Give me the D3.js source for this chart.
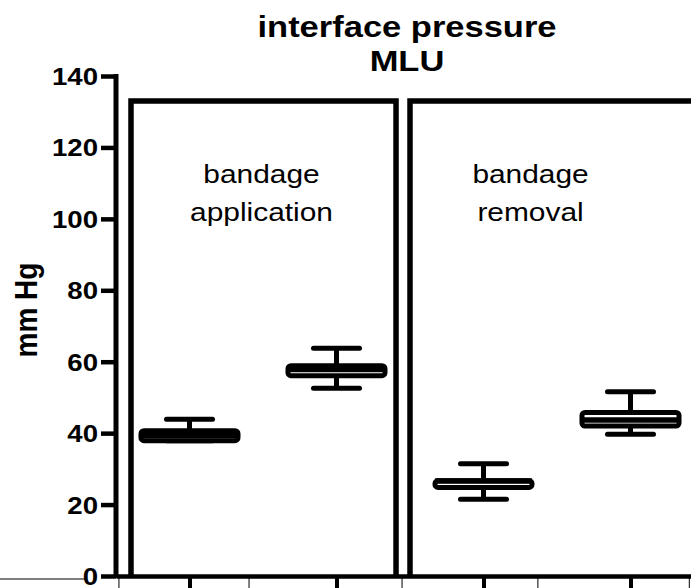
<!DOCTYPE html>
<html>
<head>
<meta charset="utf-8">
<script src="https://cdn.jsdelivr.net/npm/d3@7/dist/d3.min.js"></script>
<style>
  html, body { margin: 0; padding: 0; background: #fff; }
  svg { display: block; }
  text { font-family: "Liberation Sans", Arial, sans-serif; fill: #000; }
</style>
</head>
<body>
<svg id="chart" width="691" height="588"></svg>
<script>
// ---- data ----
const categories = ["application 1", "application 2", "removal 1", "removal 2"];
const mins    = [37.9, 52.6, 21.5, 39.7];
const q1s     = [37.9, 56.1, 24.8, 42.0];
const medians = [39.3, 57.8, 26.6, 43.7];
const q3s     = [40.7, 58.9, 26.7, 45.8];
const maxs    = [43.9, 63.8, 31.4, 51.6];

const yTicks = [0, 20, 40, 60, 80, 100, 120, 140];
const titleLines = ["interface pressure", "MLU"];
const yLabel = "mm Hg";
const panelLabels = [["bandage", "application"], ["bandage", "removal"]];
const panelSpans = [[-0.398, 1.405], [1.5, 3.7]];   // in category units
const panelTop = 133;                               // mm Hg
const panelTextPos = [0.49, 2.32];                  // category units
const panelTextValue = 110;                          // mm Hg (first line baseline)
const minorLinePos = [-0.48, 0.405, 1.446, 2.37, 3.40]; // category units

// ---- layout ----
const svg = d3.select("#chart");
const SX = 1.15; // horizontal text stretch of the original

const y = d3.scaleLinear().domain([0, 140]).range([576, 76]);
const x = d3.scalePoint().domain(categories).range([116, 704]).padding(0.5);
const xi = d3.scaleLinear().domain([0, categories.length - 1])
  .range([x(categories[0]), x(categories[categories.length - 1])]);

const boxes = categories.map((c, i) => ({
  c, min: mins[i], q1: q1s[i], med: medians[i], q3: q3s[i], max: maxs[i]
}));

// thin line at far left (frame remnant)
svg.append("line").attr("x1", 0).attr("x2", 86)
  .attr("y1", y(0) + 3).attr("y2", y(0) + 3)
  .attr("stroke", "#000").attr("stroke-width", 1);

// minor thin lines below the axis
svg.append("g").selectAll("line").data(minorLinePos).join("line")
  .attr("x1", d => xi(d)).attr("x2", d => xi(d))
  .attr("y1", y(0) + 2).attr("y2", 600)
  .attr("stroke", "#000").attr("stroke-width", 1);

// panels
const pg = svg.append("g");
panelSpans.forEach((s, i) => {
  const x0 = xi(s[0]), x1 = xi(s[1]), yt = y(panelTop), yb = y(0);
  pg.append("path")
    .attr("d", `M${x0},${yb} L${x0},${yt} L${x1},${yt} L${x1},${yb}`)
    .attr("fill", "none").attr("stroke", "#000").attr("stroke-width", 5.5)
    .attr("stroke-linejoin", "miter");
  const tx = xi(panelTextPos[i]);
  panelLabels[i].forEach((line, k) => {
    pg.append("text")
      .attr("transform", `translate(${tx},${y(panelTextValue) + k * 38}) scale(${SX},1)`)
      .attr("text-anchor", "middle")
      .attr("font-size", 26)
      .text(line);
  });
});

// box plots
const bw = x.step() * 0.66;
const cw = x.step() * 0.313;
const bg = svg.append("g").selectAll("g").data(boxes).join("g")
  .attr("transform", d => `translate(${x(d.c)},0)`);

// whiskers
bg.append("line").attr("x1", 0).attr("x2", 0)
  .attr("y1", d => y(d.max)).attr("y2", d => y(d.min))
  .attr("stroke", "#000").attr("stroke-width", 5);
bg.selectAll(".cap").data(d => [d.min, d.max]).join("line")
  .attr("class", "cap")
  .attr("x1", -cw / 2).attr("x2", cw / 2)
  .attr("y1", v => y(v)).attr("y2", v => y(v))
  .attr("stroke", "#000").attr("stroke-width", 5).attr("stroke-linecap", "round");
// box
bg.append("rect")
  .attr("x", -bw / 2).attr("width", bw)
  .attr("y", d => y(d.q3)).attr("height", d => y(d.q1) - y(d.q3))
  .attr("rx", 3)
  .attr("fill", "#fff").attr("stroke", "#000").attr("stroke-width", 5);
// median
bg.append("line")
  .attr("x1", -bw / 2).attr("x2", bw / 2)
  .attr("y1", d => y(d.med)).attr("y2", d => y(d.med))
  .attr("stroke", "#000").attr("stroke-width", 5.5);

// x axis
const xAxis = svg.append("g").attr("transform", `translate(0,${y(0)})`)
  .call(d3.axisBottom(x).tickSize(14).tickSizeOuter(0).tickFormat(""));
xAxis.select(".domain").attr("stroke-width", 4.5);
xAxis.selectAll(".tick line").attr("stroke-width", 4);

// y axis
const yAxis = svg.append("g").attr("transform", `translate(116,0)`)
  .call(d3.axisLeft(y).tickValues(yTicks).tickSize(15).tickSizeOuter(0).tickFormat(d3.format("d")));
yAxis.select(".domain").attr("stroke-width", 5)
  .attr("d", `M0,${y(140) - 2}V${y(0) + 2}`);
yAxis.selectAll(".tick line").attr("stroke-width", 4.5).attr("x2", -15);
yAxis.selectAll(".tick text")
  .attr("x", null).attr("dy", null)
  .attr("transform", `translate(-18,8.5) scale(${SX},1)`)
  .attr("font-size", 24).attr("font-weight", "bold")
  .attr("font-family", "'Liberation Sans', Arial, sans-serif")
  .attr("fill", "#000");

// y label
svg.append("text")
  .attr("transform", `translate(37,310) scale(${SX},1) rotate(-90)`)
  .attr("text-anchor", "middle")
  .attr("font-size", 28).attr("font-weight", "bold")
  .text(yLabel);

// title
titleLines.forEach((t, k) => {
  svg.append("text")
    .attr("transform", `translate(407,${37 + k * 34}) scale(${SX},1)`)
    .attr("text-anchor", "middle")
    .attr("font-size", 30).attr("font-weight", "bold")
    .text(t);
});
</script>
</body>
</html>
